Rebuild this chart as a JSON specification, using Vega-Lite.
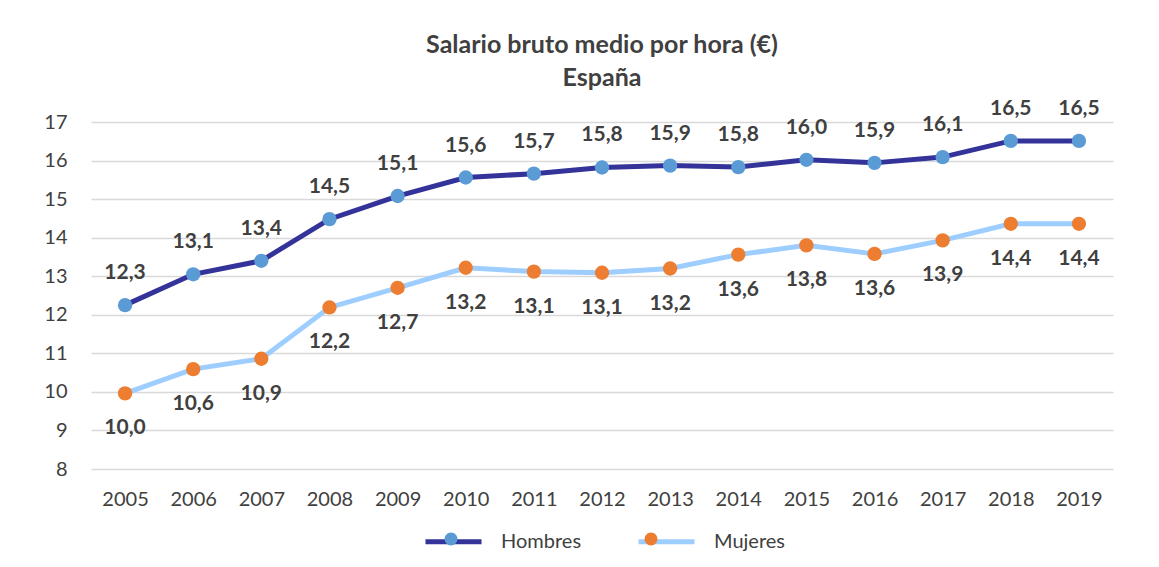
{
  "$schema": "https://vega.github.io/schema/vega-lite/v6.json",
  "width": 1022,
  "height": 347,
  "autosize": {"type": "none"},
  "padding": {"left": 91, "top": 122, "right": 46, "bottom": 98},
  "background": "white",
  "title": {
    "text": ["Salario bruto medio por hora (€)", "España"],
    "fontSize": 25,
    "fontWeight": "bold",
    "font": "Lato",
    "color": "#404040",
    "lineHeight": 33,
    "anchor": "middle",
    "offset": 7
  },
  "data": {
    "values": [
      {"year": "2005", "serie": "Hombres", "valor": 12.25},
      {"year": "2006", "serie": "Hombres", "valor": 13.05},
      {"year": "2007", "serie": "Hombres", "valor": 13.40},
      {"year": "2008", "serie": "Hombres", "valor": 14.48},
      {"year": "2009", "serie": "Hombres", "valor": 15.08},
      {"year": "2010", "serie": "Hombres", "valor": 15.56},
      {"year": "2011", "serie": "Hombres", "valor": 15.66},
      {"year": "2012", "serie": "Hombres", "valor": 15.82},
      {"year": "2013", "serie": "Hombres", "valor": 15.87},
      {"year": "2014", "serie": "Hombres", "valor": 15.83},
      {"year": "2015", "serie": "Hombres", "valor": 16.02},
      {"year": "2016", "serie": "Hombres", "valor": 15.94},
      {"year": "2017", "serie": "Hombres", "valor": 16.09},
      {"year": "2018", "serie": "Hombres", "valor": 16.51},
      {"year": "2019", "serie": "Hombres", "valor": 16.51},
      {"year": "2005", "serie": "Mujeres", "valor": 9.96},
      {"year": "2006", "serie": "Mujeres", "valor": 10.59},
      {"year": "2007", "serie": "Mujeres", "valor": 10.86},
      {"year": "2008", "serie": "Mujeres", "valor": 12.19},
      {"year": "2009", "serie": "Mujeres", "valor": 12.70},
      {"year": "2010", "serie": "Mujeres", "valor": 13.22},
      {"year": "2011", "serie": "Mujeres", "valor": 13.12},
      {"year": "2012", "serie": "Mujeres", "valor": 13.09},
      {"year": "2013", "serie": "Mujeres", "valor": 13.20},
      {"year": "2014", "serie": "Mujeres", "valor": 13.56},
      {"year": "2015", "serie": "Mujeres", "valor": 13.80},
      {"year": "2016", "serie": "Mujeres", "valor": 13.58},
      {"year": "2017", "serie": "Mujeres", "valor": 13.93},
      {"year": "2018", "serie": "Mujeres", "valor": 14.36},
      {"year": "2019", "serie": "Mujeres", "valor": 14.36}
    ]
  },
  "encoding": {
    "x": {
      "field": "year",
      "type": "ordinal",
      "scale": {"type": "point", "padding": 0.5},
      "axis": {
        "title": null,
        "labelAngle": 0,
        "domain": false,
        "ticks": false,
        "grid": false,
        "labelPadding": 20,
        "labelFontSize": 20,
        "labelFont": "Lato",
        "labelColor": "#404040"
      }
    },
    "y": {
      "field": "valor",
      "type": "quantitative",
      "scale": {"domain": [8, 17], "nice": false, "zero": false},
      "axis": {
        "title": null,
        "values": [8, 9, 10, 11, 12, 13, 14, 15, 16, 17],
        "domain": false,
        "ticks": false,
        "grid": true,
        "gridColor": "#D9D9D9",
        "gridWidth": 1.5,
        "labelPadding": 24,
        "labelFontSize": 20,
        "labelFont": "Lato",
        "labelColor": "#404040",
        "format": "d"
      }
    }
  },
  "layer": [
    {
      "mark": {"type": "line", "strokeWidth": 5},
      "encoding": {
        "stroke": {
          "field": "serie",
          "type": "nominal",
          "scale": {"domain": ["Hombres", "Mujeres"], "range": ["#333399", "#9DCEFF"]},
          "legend": {
            "title": null,
            "orient": "none",
            "direction": "horizontal",
            "legendX": 332,
            "legendY": 389,
            "padding": 0,
            "symbolType": "stroke",
            "symbolSize": 3136,
            "symbolStrokeWidth": 5,
            "labelOffset": 17,
            "columnPadding": 46,
            "labelFontSize": 20,
            "labelFont": "Lato",
            "labelColor": "#404040"
          }
        }
      }
    },
    {
      "mark": {"type": "circle", "size": 205, "opacity": 1},
      "encoding": {
        "fill": {
          "field": "serie",
          "type": "nominal",
          "scale": {"range": ["#5B9BD5", "#ED7D31"]},
          "legend": {
            "title": null,
            "orient": "none",
            "direction": "horizontal",
            "legendX": 332,
            "legendY": 389,
            "padding": 0,
            "symbolType": "M0.23,0A0.23,0.23 0 1,1 -0.23,0A0.23,0.23 0 1,1 0.23,0Z",
            "symbolSize": 3136,
            "symbolStrokeWidth": 0,
            "symbolOpacity": 1,
            "labelOffset": 17,
            "columnPadding": 46,
            "labelFontSize": 20,
            "labelFont": "Lato",
            "labelOpacity": 0
          }
        }
      }
    },
    {
      "transform": [{"filter": "datum.serie === 'Hombres'"}],
      "mark": {"type": "text", "dy": -32, "fontSize": 21, "fontWeight": "bold", "font": "Lato", "color": "#404040", "baseline": "middle"},
      "encoding": {
        "text": {"field": "valor", "type": "quantitative", "format": ".1f"}
      }
    },
    {
      "transform": [{"filter": "datum.serie === 'Mujeres'"}],
      "mark": {"type": "text", "dy": 35, "fontSize": 21, "fontWeight": "bold", "font": "Lato", "color": "#404040", "baseline": "middle"},
      "encoding": {
        "text": {"field": "valor", "type": "quantitative", "format": ".1f"}
      }
    }
  ],
  "config": {
    "view": {"stroke": null},
    "locale": {
      "number": {"decimal": ",", "thousands": ".", "grouping": [3], "currency": ["", " €"]}
    }
  }
}
